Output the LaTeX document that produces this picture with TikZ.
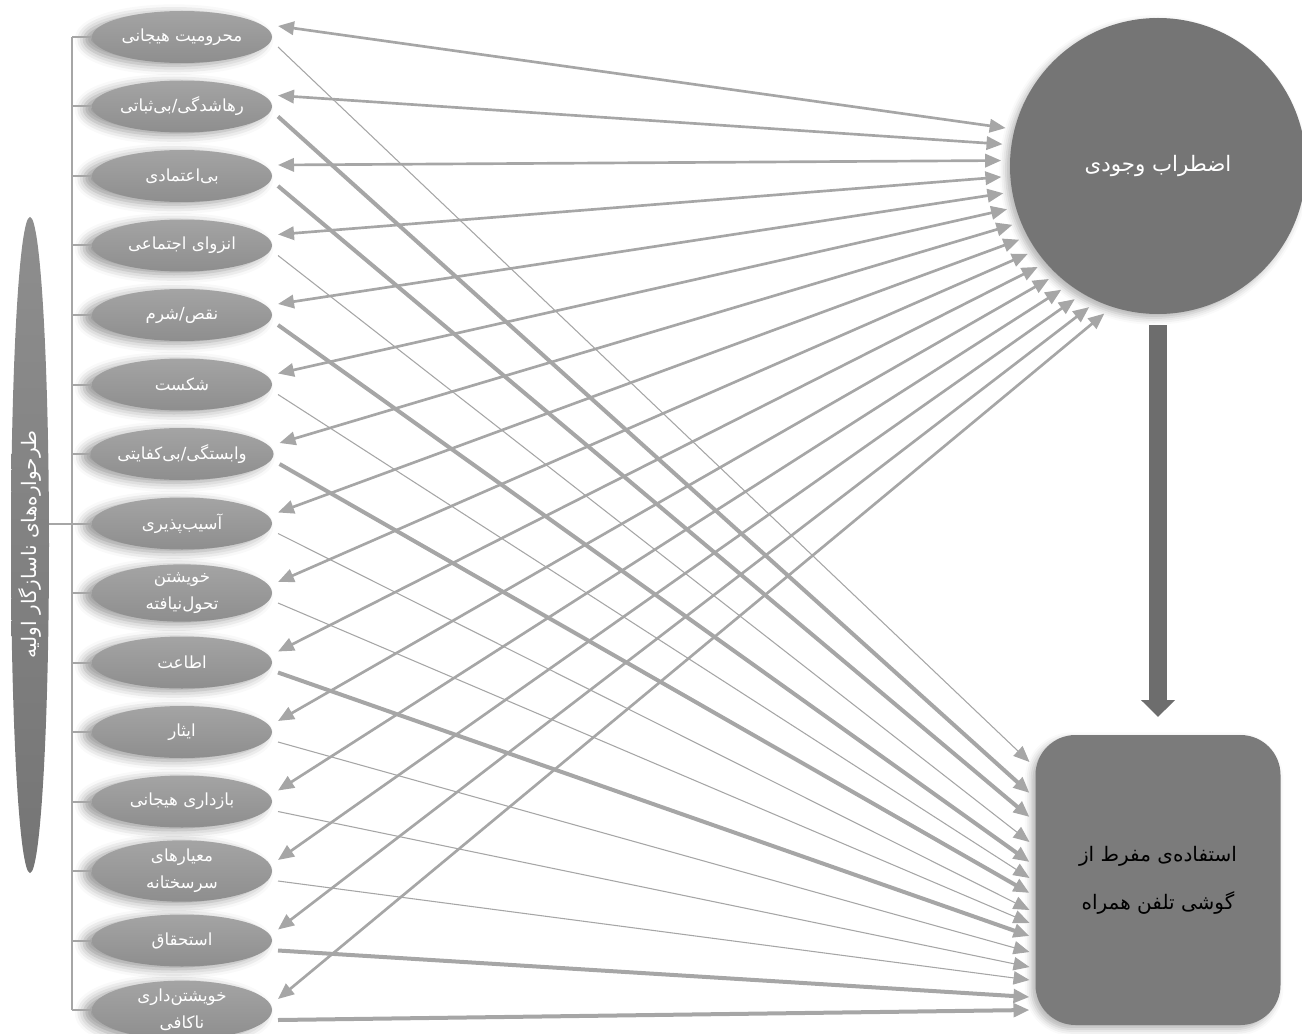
\documentclass[tikz,border=0pt]{standalone}
\usepackage{fontspec}
\usepackage{tikz}
\usetikzlibrary{
    arrows.meta,
    shapes.geometric,
    calc,
    positioning,
    shadows.blur
}
\TeXXeTstate=1
\newfontfamily\farsi[Script=Arabic]{DejaVu Sans}
\newcommand{\fa}[1]{\beginR#1\endR}
\definecolor{linegray}{HTML}{A6A6A6}
\definecolor{ovaltop}{HTML}{A4A4A4}
\definecolor{ovalbot}{HTML}{8E8E8E}
\definecolor{circgray}{HTML}{757575}
\definecolor{boxgray}{HTML}{7B7B7B}
\definecolor{arrowdark}{HTML}{6D6D6D}

\begin{document}
\begin{tikzpicture}[x=0.75pt, y=-0.75pt,
    schema/.style={ellipse, minimum width=135pt, minimum height=39pt, inner sep=0pt,
        outer sep=4.5pt, top color=ovaltop, bottom color=ovalbot, text=white, align=center,
        font=\farsi\fontsize{12.5}{20}\selectfont,
        blur shadow={shadow xshift=-6pt, shadow yshift=-2pt, shadow blur radius=7pt, shadow opacity=40}},
    anxiety/.style={circle, minimum size=222pt, inner sep=0pt, outer sep=6.75pt,
        fill=circgray, text=white, font=\farsi\fontsize{16}{18}\selectfont,
        blur shadow={shadow xshift=-3pt, shadow yshift=-3pt, shadow blur radius=5pt, shadow opacity=30}},
    usebox/.style={rectangle, rounded corners=30pt, minimum width=183.75pt, minimum height=217.5pt,
        inner sep=0pt, outer sep=4.5pt, fill=boxgray, text=black, align=center,
        font=\farsi\fontsize{15}{36}\selectfont,
        blur shadow={shadow xshift=-3pt, shadow yshift=-3pt, shadow blur radius=5pt, shadow opacity=30}},
    groupoval/.style={ellipse, minimum width=492pt, minimum height=28.5pt, inner sep=0pt,
        rotate=90, top color=ovalbot, bottom color=circgray, text=white,
        font=\farsi\fontsize{15}{18}\selectfont},
    bidir/.style={draw=linegray, line width=2pt,
        arrows={Triangle[length=12pt,width=10pt]-Triangle[length=12pt,width=10pt]}},
    heavy/.style={draw=linegray, line width=3pt, arrows={-Triangle[length=12pt,width=10pt]}},
    light/.style={draw=linegray, line width=0.8pt, arrows={-Triangle[length=12pt,width=10pt]}},
    bracket/.style={draw=linegray, line width=1.5pt},
    bigarrow/.style={draw=arrowdark, line width=13.5pt, shorten <=1.5pt, shorten >=9pt,
        arrows={-Triangle[length=12.75pt,width=24.75pt]}}
]
\useasboundingbox (0,0) rectangle (1302,1034);

% schemas
\node[schema] (s1) at (182, 37) {\fa{محرومیت هیجانی}};
\node[schema] (s2) at (182, 106.5) {\fa{رهاشدگی/بی^^^^200cثباتی}};
\node[schema] (s3) at (182, 176) {\fa{بی^^^^200cاعتمادی}};
\node[schema] (s4) at (182, 245.5) {\fa{انزوای اجتماعی}};
\node[schema] (s5) at (182, 315) {\fa{نقص/شرم}};
\node[schema] (s6) at (182, 384.5) {\fa{شکست}};
\node[schema] (s7) at (182, 454) {\fa{وابستگی/بی^^^^200cکفایتی}};
\node[schema] (s8) at (182, 523.5) {\fa{آسیب^^^^200cپذیری}};
\node[schema] (s9) at (182, 593) {\fa{خویشتن}\\\fa{تحول^^^^200cنیافته}};
\node[schema] (s10) at (182, 662.5) {\fa{اطاعت}};
\node[schema] (s11) at (182, 732) {\fa{ایثار}};
\node[schema] (s12) at (182, 801.5) {\fa{بازداری هیجانی}};
\node[schema] (s13) at (182, 871) {\fa{معیارهای}\\\fa{سرسختانه}};
\node[schema] (s14) at (182, 940.5) {\fa{استحقاق}};
\node[schema] (s15) at (182, 1010) {\fa{خویشتن^^^^200cداری}\\\fa{ناکافی}};

\node[groupoval] (ems) at (30, 545) {\fa{طرحواره^^^^200cهای ناسازگار اولیه}};
\node[anxiety] (anx) at (1158, 166) {\fa{اضطراب وجودی}};
\node[usebox] (use) at (1158, 880) {\fa{استفاده^^^^200cی مفرط از}\\\fa{گوشی تلفن همراه}};

% bracket
\coordinate (brk) at (72, 0);
\draw[bracket] (brk |- s1) -- (brk |- s15);
\draw[bracket] (ems.south |- s8) -- (brk |- s8);
\draw
(brk |- s1) edge[bracket, shorten >=-4.5pt] (s1.west)
(brk |- s2) edge[bracket, shorten >=-4.5pt] (s2.west)
(brk |- s3) edge[bracket, shorten >=-4.5pt] (s3.west)
(brk |- s4) edge[bracket, shorten >=-4.5pt] (s4.west)
(brk |- s5) edge[bracket, shorten >=-4.5pt] (s5.west)
(brk |- s6) edge[bracket, shorten >=-4.5pt] (s6.west)
(brk |- s7) edge[bracket, shorten >=-4.5pt] (s7.west)
(brk |- s8) edge[bracket, shorten >=-4.5pt] (s8.west)
(brk |- s9) edge[bracket, shorten >=-4.5pt] (s9.west)
(brk |- s10) edge[bracket, shorten >=-4.5pt] (s10.west)
(brk |- s11) edge[bracket, shorten >=-4.5pt] (s11.west)
(brk |- s12) edge[bracket, shorten >=-4.5pt] (s12.west)
(brk |- s13) edge[bracket, shorten >=-4.5pt] (s13.west)
(brk |- s14) edge[bracket, shorten >=-4.5pt] (s14.west)
(brk |- s15) edge[bracket, shorten >=-4.5pt] (s15.west);

% schemas <-> existential anxiety
\draw
($(s1.east)+(0,-11)$) edge[bidir] (anx.166)
($(s2.east)+(0,-11)$) edge[bidir] (anx.172)
($(s3.east)+(0,-11)$) edge[bidir] (anx.178)
($(s4.east)+(0,-11)$) edge[bidir] (anx.184)
($(s5.east)+(0,-11)$) edge[bidir] (anx.190)
($(s6.east)+(0,-11)$) edge[bidir] (anx.196)
($(s7.east)+(0,-11)$) edge[bidir] (anx.202)
($(s8.east)+(0,-11)$) edge[bidir] (anx.208)
($(s9.east)+(0,-11)$) edge[bidir] (anx.214)
($(s10.east)+(0,-11)$) edge[bidir] (anx.220)
($(s11.east)+(0,-11)$) edge[bidir] (anx.226)
($(s12.east)+(0,-11)$) edge[bidir] (anx.232)
($(s13.east)+(0,-11)$) edge[bidir] (anx.238)
($(s14.east)+(0,-11)$) edge[bidir] (anx.244)
($(s15.east)+(0,-11)$) edge[bidir] (anx.250);

% schemas -> phone use
\draw
($(s1.east)+(0,10)$) edge[light] ($(use.north west)+(0,33)$)
($(s2.east)+(0,10)$) edge[heavy] ($(use.north west)+(0,64)$)
($(s3.east)+(0,10)$) edge[heavy] ($(use.north west)+(0,88)$)
($(s4.east)+(0,10)$) edge[light] ($(use.north west)+(0,113)$)
($(s5.east)+(0,10)$) edge[heavy] ($(use.north west)+(0,133)$)
($(s6.east)+(0,10)$) edge[light] ($(use.north west)+(0,149)$)
($(s7.east)+(0,10)$) edge[heavy] ($(use.north west)+(0,164)$)
($(s8.east)+(0,10)$) edge[light] ($(use.north west)+(0,181)$)
($(s9.east)+(0,10)$) edge[light] ($(use.north west)+(0,194)$)
($(s10.east)+(0,10)$) edge[heavy] ($(use.north west)+(0,207)$)
($(s11.east)+(0,10)$) edge[light] ($(use.north west)+(0,223)$)
($(s12.east)+(0,10)$) edge[light] ($(use.north west)+(0,238)$)
($(s13.east)+(0,10)$) edge[light] ($(use.north west)+(0,251)$)
($(s14.east)+(0,10)$) edge[heavy] ($(use.north west)+(0,268)$)
($(s15.east)+(0,10)$) edge[heavy] ($(use.north west)+(0,281)$);

\draw[bigarrow] (anx.south) -- (use.north);
\end{tikzpicture}
\end{document}
